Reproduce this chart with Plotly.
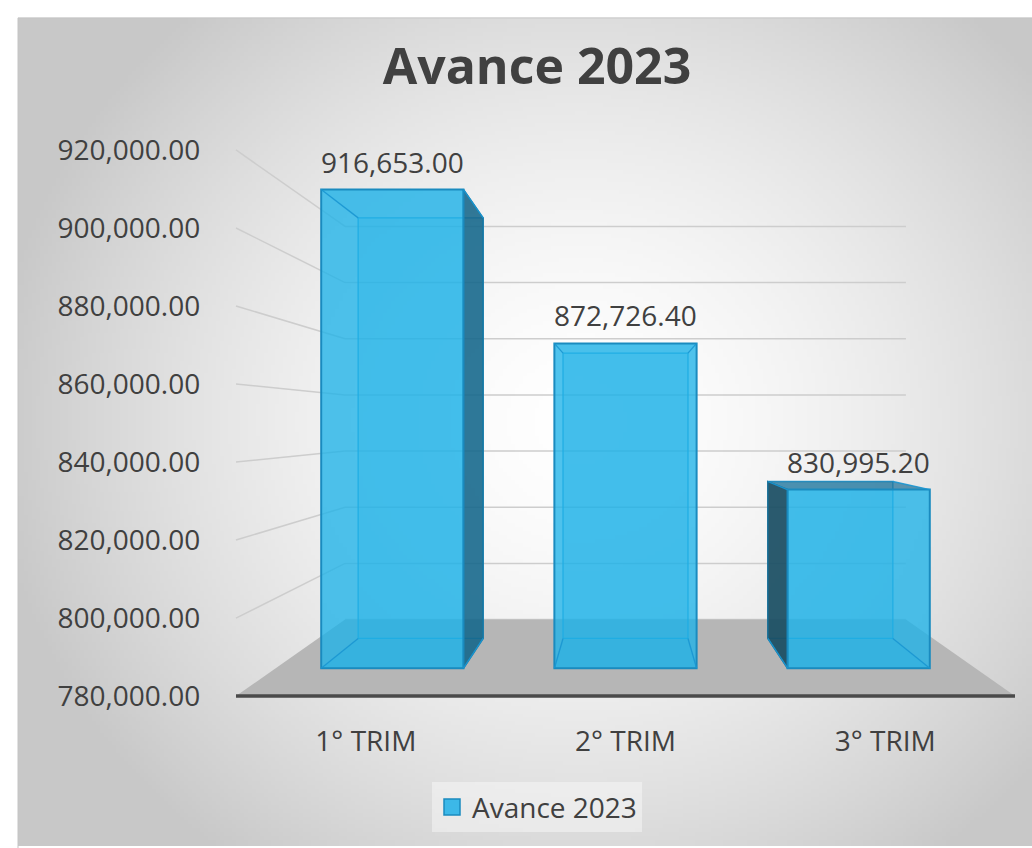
import zlib, struct, base64
import numpy as np
import plotly.graph_objects as go

# ---------------- data ----------------
categories = ["1° TRIM", "2° TRIM", "3° TRIM"]
values = [916653.00, 872726.40, 830995.20]
y_ticks = [780000, 800000, 820000, 840000, 860000, 880000, 900000, 920000]
series_name = "Avance 2023"
chart_title = "Avance 2023"

# ---------------- 3D-look parameters (style) ----------------
BASE = 780000.0          # floor level (axis minimum)
EYE_V = 850000.0         # eye level (vertical vanishing value)
EYE_C = 1.0              # horizontal vanishing position (category units)
S_BAR_FRONT = 0.898      # perspective scale of bar front faces
S_BAR_BACK = 0.789       # perspective scale of bar back faces
S_WALL = 0.72            # perspective scale of back wall
HALF_W = 0.305           # half bar width (category units)
FLOOR_L, FLOOR_R = -0.5, len(categories) - 0.5

FONT = "Open Sans"
TXT = "#404040"


def proj(c, v, s):
    return EYE_C + (c - EYE_C) * s, EYE_V + (v - EYE_V) * s


def add_poly(xs, ys, pts, close=True):
    for (c, v, s) in pts:
        x, y = proj(c, v, s)
        xs.append(x); ys.append(y)
    if close:
        x, y = proj(*pts[0])
        xs.append(x); ys.append(y)
    xs.append(None); ys.append(None)


positions = list(range(len(categories)))

# ---------------- background gradient image ----------------
def gray_png_uri(a):
    h, w = a.shape
    raw = b"".join(b"\x00" + a[i].tobytes() for i in range(h))
    def chunk(t, d):
        return struct.pack(">I", len(d)) + t + d + struct.pack(">I", zlib.crc32(t + d) & 0xffffffff)
    png = (b"\x89PNG\r\n\x1a\n"
           + chunk(b"IHDR", struct.pack(">IIBBBBB", w, h, 8, 0, 0, 0, 0))
           + chunk(b"IDAT", zlib.compress(raw, 9))
           + chunk(b"IEND", b""))
    return "data:image/png;base64," + base64.b64encode(png).decode()

W, H = 1032, 848
BX0, BY0 = 18, 14
gw, gh = 254, 209
px = BX0 + (np.arange(gw) + 0.5) * (W - BX0) / gw
py = BY0 + (np.arange(gh) + 0.5) * (H - BY0) / gh
PX, PY = np.meshgrid(px, py)
r = np.sqrt(((PX - 580) / 600) ** 2 + ((PY - 420) / 560) ** 2)
g = np.clip(255 - 56 * r ** 1.6, 200, 254).astype(np.uint8)
bg_uri = gray_png_uri(g)

fig = go.Figure()

# ---------------- walls gridlines ----------------
gx, gy = [], []
for v in y_ticks:
    if v > BASE:
        add_poly(gx, gy, [(FLOOR_L, v, 1.0), (FLOOR_L, v, S_WALL)], close=False)
    add_poly(gx, gy, [(FLOOR_L, v, S_WALL), (FLOOR_R, v, S_WALL)], close=False)
fig.add_trace(go.Scatter(x=gx, y=gy, mode="lines", line=dict(color="#cdcdcd", width=1.5),
                         hoverinfo="skip", showlegend=False, zorder=0))

# ---------------- floor ----------------
fx, fy = [], []
add_poly(fx, fy, [(FLOOR_L, BASE, 1.0), (FLOOR_R, BASE, 1.0), (FLOOR_R, BASE, S_WALL), (FLOOR_L, BASE, S_WALL)])
fig.add_trace(go.Scatter(x=fx, y=fy, mode="lines", fill="toself", fillcolor="#b6b6b6",
                         line=dict(width=0), hoverinfo="skip", showlegend=False, zorder=1))
lx, ly = [], []
add_poly(lx, ly, [(FLOOR_L, BASE, 1.0), (FLOOR_R, BASE, 1.0)], close=False)
fig.add_trace(go.Scatter(x=lx, y=ly, mode="lines", line=dict(color="#4a4a4a", width=3.5),
                         hoverinfo="skip", showlegend=False, zorder=2))

# ---------------- bars: hidden faces ----------------
bkx, bky, btx, bty = [], [], [], []
tux, tuy, tdx, tdy = [], [], [], []      # top faces seen from below / from above
rsx, rsy, lsx, lsy, edx, edy = [], [], [], [], [], []
for c, v in zip(positions, values):
    l, rr = c - HALF_W, c + HALF_W
    add_poly(bkx, bky, [(l, BASE, S_BAR_BACK), (rr, BASE, S_BAR_BACK), (rr, v, S_BAR_BACK), (l, v, S_BAR_BACK)])
    top = [(l, v, S_BAR_FRONT), (rr, v, S_BAR_FRONT), (rr, v, S_BAR_BACK), (l, v, S_BAR_BACK)]
    if v > EYE_V:
        add_poly(tux, tuy, top)
    else:
        add_poly(tdx, tdy, top)
    add_poly(btx, bty, [(l, BASE, S_BAR_FRONT), (rr, BASE, S_BAR_FRONT), (rr, BASE, S_BAR_BACK), (l, BASE, S_BAR_BACK)])
    if rr < EYE_C:
        add_poly(rsx, rsy, [(rr, BASE, S_BAR_FRONT), (rr, v, S_BAR_FRONT), (rr, v, S_BAR_BACK), (rr, BASE, S_BAR_BACK)])
    if l > EYE_C:
        add_poly(lsx, lsy, [(l, BASE, S_BAR_FRONT), (l, v, S_BAR_FRONT), (l, v, S_BAR_BACK), (l, BASE, S_BAR_BACK)])
    for cc in (l, rr):
        for vv in (BASE, v):
            add_poly(edx, edy, [(cc, vv, S_BAR_FRONT), (cc, vv, S_BAR_BACK)], close=False)

fig.add_trace(go.Scatter(x=bkx, y=bky, mode="lines", fill="toself", fillcolor="rgba(30,170,225,0.25)",
                         line=dict(color="rgba(25,150,210,0.9)", width=1.3), hoverinfo="skip",
                         showlegend=False, zorder=3))
fig.add_trace(go.Scatter(x=btx, y=bty, mode="lines", fill="toself", fillcolor="rgba(20,160,215,0.25)",
                         line=dict(width=0), hoverinfo="skip", showlegend=False, zorder=3))
fig.add_trace(go.Scatter(x=tux, y=tuy, mode="lines", fill="toself", fillcolor="rgba(30,160,215,0.12)",
                         line=dict(width=0), hoverinfo="skip", showlegend=False, zorder=3))
fig.add_trace(go.Scatter(x=tdx, y=tdy, mode="lines", fill="toself", fillcolor="rgba(25,110,150,0.7)",
                         line=dict(width=0), hoverinfo="skip", showlegend=False, zorder=3))
fig.add_trace(go.Scatter(x=rsx, y=rsy, mode="lines", fill="toself", fillcolor="rgba(20,100,135,0.85)",
                         line=dict(color="#1a7aa6", width=1.5), hoverinfo="skip", showlegend=False, zorder=4))
fig.add_trace(go.Scatter(x=lsx, y=lsy, mode="lines", fill="toself", fillcolor="rgba(25,75,95,0.9)",
                         line=dict(color="#1a6e94", width=1.5), hoverinfo="skip", showlegend=False, zorder=4))

# ---------------- bars: front faces (real bar trace) ----------------
fx_c = [proj(c, BASE, S_BAR_FRONT)[0] for c in positions]
f_base = [proj(c, BASE, S_BAR_FRONT)[1] for c in positions]
f_top = [proj(c, v, S_BAR_FRONT)[1] for c, v in zip(positions, values)]
fig.add_trace(go.Bar(
    x=fx_c, y=[t - b for t, b in zip(f_top, f_base)], base=f_base,
    width=[2 * HALF_W * S_BAR_FRONT] * len(values),
    marker=dict(color="rgba(30,178,232,0.78)", line=dict(color="#1a8bbf", width=2)),
    name=series_name, customdata=values, hovertemplate="%{customdata:,.2f}<extra></extra>",
    showlegend=False, zorder=5))

fig.add_trace(go.Scatter(x=edx, y=edy, mode="lines", line=dict(color="rgba(25,150,210,0.9)", width=1.3),
                         hoverinfo="skip", showlegend=False, zorder=6))

# legend entry
fig.add_trace(go.Scatter(x=[None], y=[None], mode="markers", name=series_name,
                         marker=dict(symbol="square", size=18, color="#3cb8e8",
                                     line=dict(color="#1a8bbf", width=1.5)),
                         showlegend=True))

# ---------------- data labels ----------------
for c, v, t in zip(positions, values, f_top):
    fig.add_annotation(x=proj(c, v, S_BAR_FRONT)[0], y=t, text=f"{v:,.2f}", showarrow=False,
                       yshift=28, yanchor="middle", xanchor="center",
                       font=dict(family=FONT, size=28, color=TXT))

# ---------------- layout ----------------
x_lo, x_hi = FLOOR_L - 0.02, FLOOR_R + 0.02
px_per_cat = (1015 - 236) / (FLOOR_R - FLOOR_L)
xd0 = (236 - 0.02 * px_per_cat) / W
xd1 = (1015 + 0.02 * px_per_cat) / W
y_lo, y_hi = 776000, 924000
ppu = 550 / 140000
yd0 = (H - (697 + (BASE - y_lo) * ppu)) / H
yd1 = (H - (147 - (y_hi - 920000) * ppu)) / H

fig.update_layout(
    width=W, height=H,
    margin=dict(l=0, r=0, t=0, b=0),
    paper_bgcolor="white", plot_bgcolor="rgba(0,0,0,0)",
    font=dict(family=FONT, size=28, color=TXT),
    title=dict(text=f"<b>{chart_title}</b>", x=537 / W, xanchor="center", y=1 - 66 / H,
               yanchor="middle", font=dict(family=FONT, size=50, color=TXT)),
    xaxis=dict(domain=[xd0, xd1], range=[x_lo, x_hi], showgrid=False, zeroline=False, showline=False,
               tickvals=positions, ticktext=categories, ticks="outside", ticklen=5,
               tickcolor="rgba(0,0,0,0)", tickfont=dict(family=FONT, size=28, color=TXT), fixedrange=True),
    yaxis=dict(domain=[yd0, yd1], range=[y_lo, y_hi], showgrid=False, zeroline=False, showline=False,
               tickvals=y_ticks, tickformat=",.2f", ticks="outside", ticklen=24,
               tickcolor="rgba(0,0,0,0)", tickfont=dict(family=FONT, size=28, color=TXT), fixedrange=True),
    legend=dict(orientation="h", x=537 / W, xanchor="center", y=1 - 809 / H, yanchor="middle",
                bgcolor="rgba(255,255,255,0.4)", itemsizing="trace",
                font=dict(family=FONT, size=28, color=TXT)),
    images=[dict(source=bg_uri, xref="paper", yref="paper", x=BX0 / W, y=1 - BY0 / H,
                 sizex=(W - BX0) / W, sizey=(H - BY0) / H, xanchor="left", yanchor="top",
                 sizing="stretch", layer="below")],
    shapes=[dict(type="rect", xref="paper", yref="paper", x0=BX0 / W, x1=1.02, y0=-0.02, y1=1 - BY0 / H,
                 line=dict(color="#c4c4c4", width=1), fillcolor="rgba(0,0,0,0)", layer="below")],
    showlegend=True,
)

fig.write_html("out.html", config={"displayModeBar": False},
               post_script="document.body.style.margin='0';")
